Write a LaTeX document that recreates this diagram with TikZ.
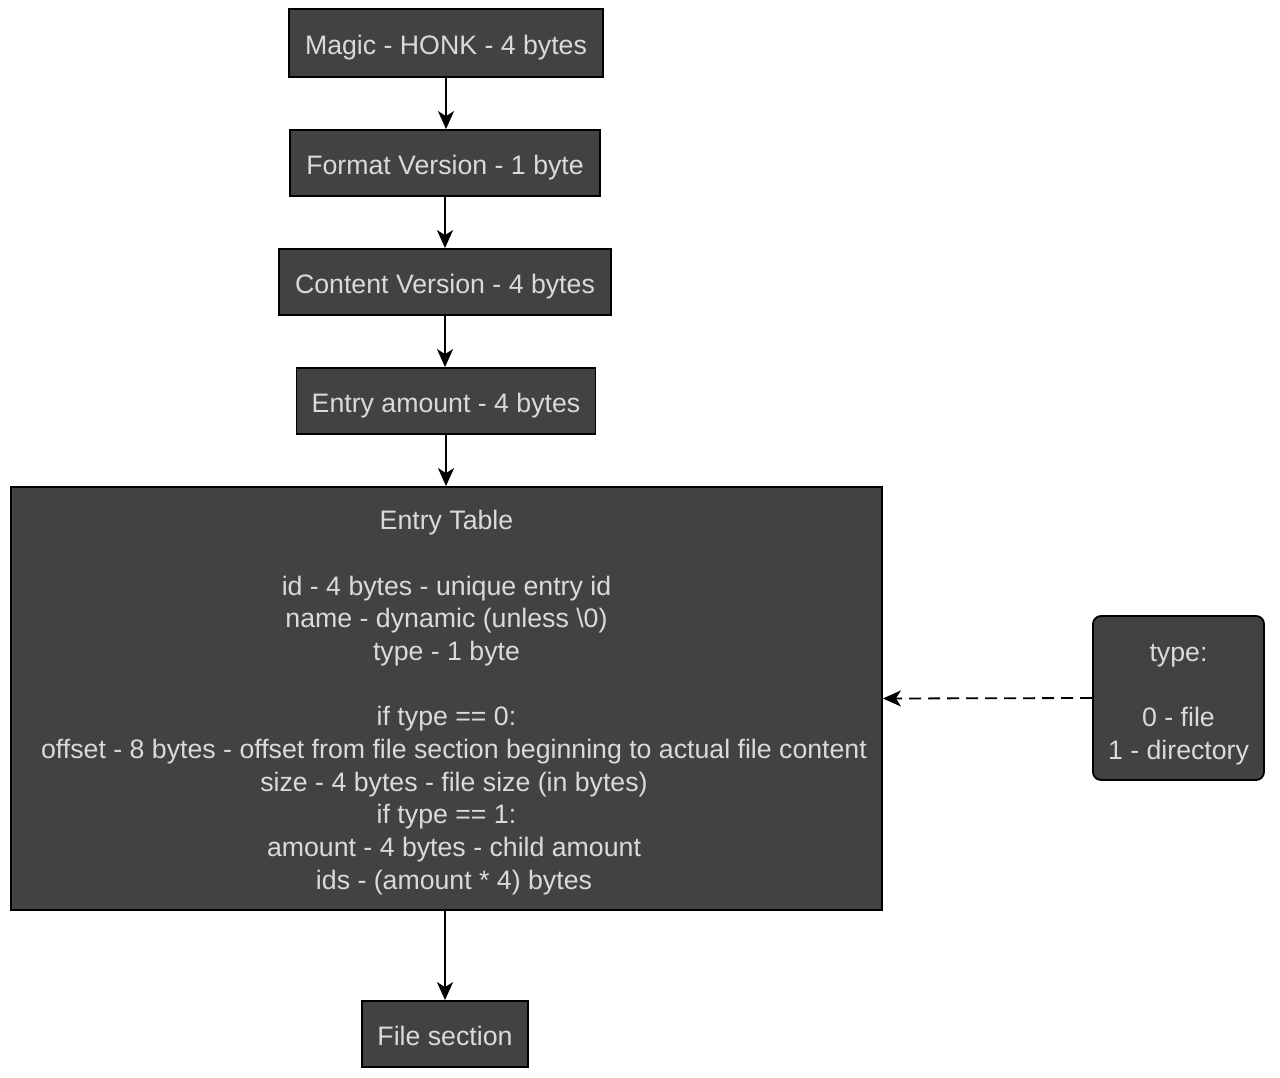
\documentclass[tikz,border=0pt]{standalone}
\usepackage{fontspec}
\setmainfont{Liberation Sans}
\usetikzlibrary{arrows.meta}
\definecolor{boxfill}{HTML}{424242}
\definecolor{boxtext}{HTML}{DADADA}
\newcommand{\ind}{\hspace*{15pt}}
\begin{document}
\begin{tikzpicture}[x=1pt,y=-1pt,
  box/.style={draw=black, line width=1.8pt, fill=boxfill, text=boxtext,
    inner sep=0pt, align=center, font=\fontsize{26.7}{32.7}\selectfont},
  sbox/.style={box, execute at begin node={\rule[-5.6pt]{0pt}{33.6pt}}},
  link/.style={draw=black, line width=1.8pt,
    -{Stealth[length=18pt,width=16pt,inset=5pt]}},
  dlink/.style={link, dash pattern=on 12pt off 7pt}]
\useasboundingbox (0,0) rectangle (1280,1077);
\fill[white] (0,0) rectangle (1280,1077);
\node[sbox, minimum width=314pt, minimum height=68pt] (magic) at (446,43) {Magic - HONK - 4 bytes};
\node[sbox, minimum width=310pt, minimum height=66pt] (fmt) at (445,163) {Format Version - 1 byte};
\node[sbox, minimum width=332pt, minimum height=66pt] (cnt) at (445,282) {Content Version - 4 bytes};
\node[sbox, minimum width=299pt, minimum height=66pt] (amt) at (446,401) {Entry amount - 4 bytes};
\node[box, minimum width=871pt, minimum height=423pt] (et) at (446.5,698.5) {\rule{0pt}{27.5pt}Entry Table\\\mbox{}\\id - 4 bytes - unique entry id\\name - dynamic (unless \textbackslash 0)\\type - 1 byte\\\mbox{}\\if type == 0:\\\ind offset - 8 bytes - offset from file section beginning to actual file content\\\ind size - 4 bytes - file size (in bytes)\\if type == 1:\\\ind amount - 4 bytes - child amount\\\ind ids - (amount * 4) bytes};
\node[box, rounded corners=8pt, minimum width=171pt, minimum height=164pt] (type) at (1178.5,698) {\rule{0pt}{30.5pt}type:\\\mbox{}\\0 - file\\1 - directory};
\node[sbox, minimum width=166pt, minimum height=66pt] (fs) at (445,1034) {File section};
\draw[link] (magic.south) -- (magic.south |- fmt.north);
\draw[link] (fmt) -- (cnt);
\draw[link] (cnt.south) -- (cnt.south |- amt.north);
\draw[link] (amt.south) -- (amt.south |- et.north);
\draw[link] (fs.north |- et.south) -- (fs.north);
\draw[dlink] (type.west) -- (et.east);
\end{tikzpicture}
\end{document}
